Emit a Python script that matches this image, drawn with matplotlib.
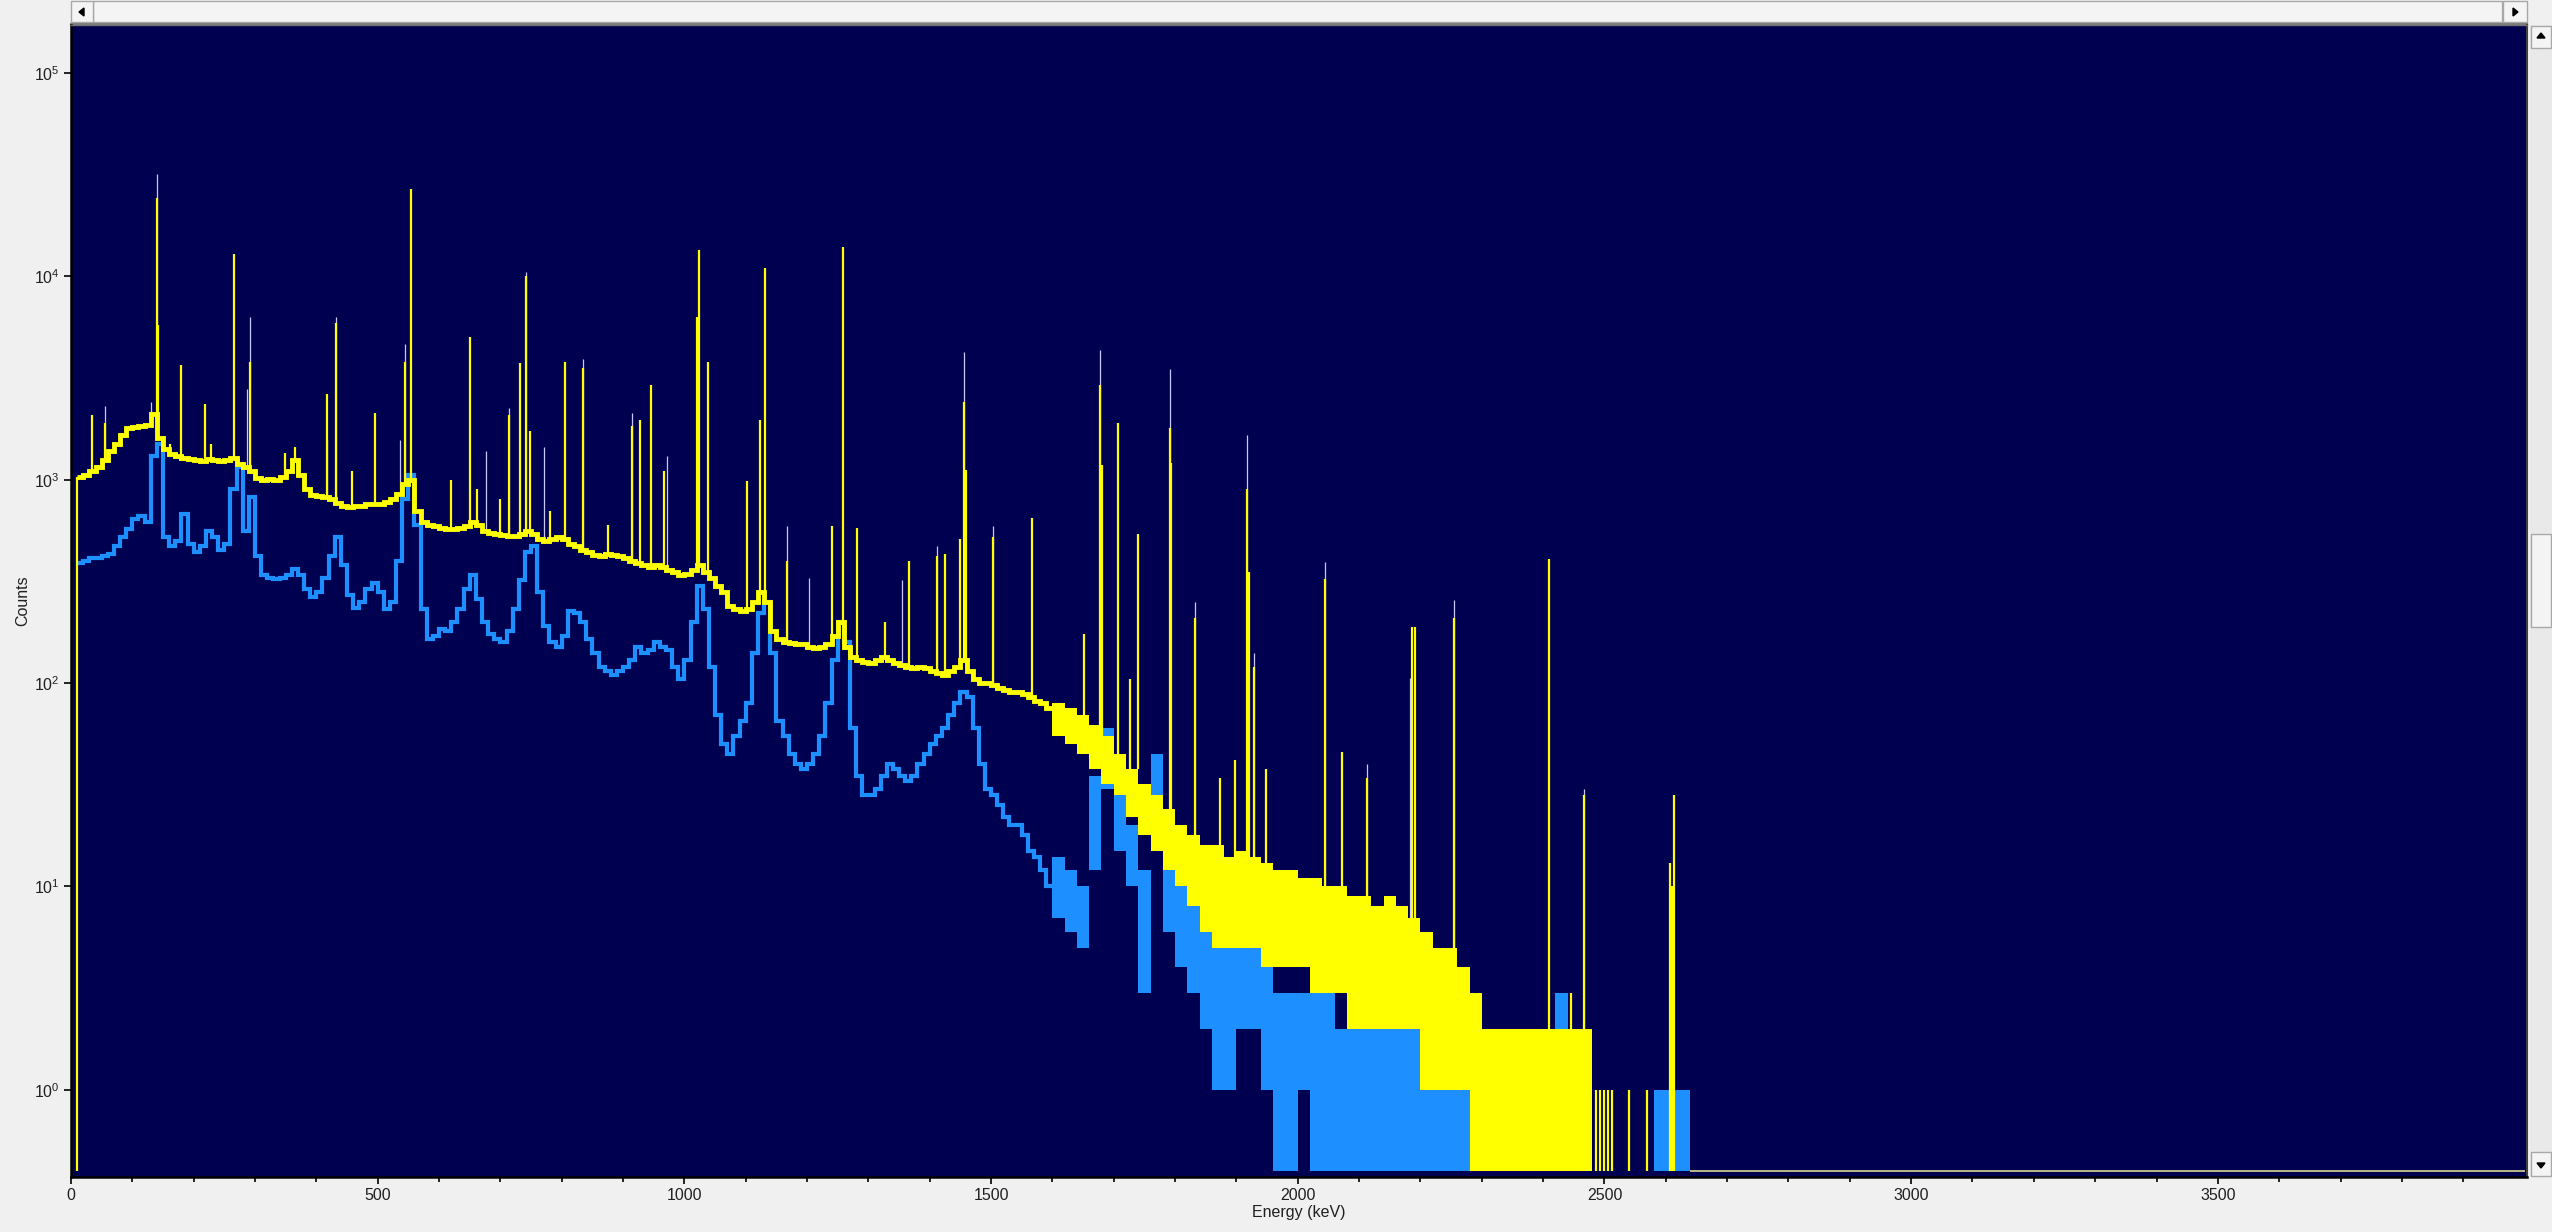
import numpy as np
import matplotlib
matplotlib.use("Agg")
import matplotlib.pyplot as plt
from matplotlib.patches import Rectangle, Polygon
from matplotlib.ticker import FixedLocator, NullLocator

plt.rcParams['font.family'] = ['Liberation Sans', 'DejaVu Sans']
plt.rcParams['mathtext.default'] = 'regular'

# ---- values ----
# 10 keV channels, 0..1600 keV: centre of the noisy trace (counts)
bin_edges = np.arange(0, 1610, 10)
yellow_mid = [
    0, 1030, 1060, 1100, 1150, 1250, 1380, 1500, 1650, 1800,
    1820, 1840, 1860, 2100, 1600, 1420, 1330, 1300, 1280, 1260,
    1250, 1240, 1260, 1250, 1240, 1250, 1280, 1200, 1150, 1100,
    1020, 1000, 1010, 1000, 1030, 1100, 1250, 1050, 900, 840,
    830, 820, 800, 770, 740, 730, 740, 740, 760, 760,
    760, 780, 800, 850, 950, 1000, 700, 620, 600, 590,
    580, 575, 570, 580, 590, 620, 600, 560, 545, 540,
    535, 530, 530, 540, 560, 540, 510, 500, 510, 520,
    510, 480, 470, 450, 440, 425, 420, 430, 425, 420,
    410, 400, 390, 380, 370, 380, 370, 360, 350, 340,
    345, 360, 380, 350, 330, 300, 280, 240, 230, 225,
    230, 250, 280, 250, 180, 165, 160, 158, 155, 155,
    150, 148, 150, 155, 170, 200, 150, 135, 130, 127,
    125, 130, 135, 130, 125, 122, 120, 118, 120, 118,
    115, 112, 110, 115, 120, 130, 115, 105, 100, 100,
    98, 95, 92, 90, 90, 88, 85, 82, 80, 75,
]
blue_mid = [
    0, 390, 400, 410, 410, 420, 430, 470, 520, 570,
    640, 660, 620, 1300, 1500, 520, 470, 500, 680, 480,
    440, 470, 560, 520, 450, 480, 900, 1150, 560, 820,
    420, 340, 330, 325, 330, 340, 365, 340, 290, 265,
    280, 330, 420, 520, 380, 270, 235, 250, 290, 310,
    280, 230, 250, 400, 800, 1050, 600, 230, 165, 170,
    185, 180, 200, 230, 290, 340, 260, 200, 175, 165,
    160, 180, 230, 320, 440, 470, 280, 190, 160, 150,
    170, 225, 220, 200, 165, 140, 120, 115, 110, 115,
    120, 130, 150, 140, 145, 160, 150, 145, 120, 105,
    130, 200, 300, 230, 120, 70, 50, 45, 55, 65,
    80, 140, 220, 250, 140, 65, 55, 45, 40, 38,
    40, 45, 55, 80, 130, 200, 160, 60, 35, 28,
    28, 30, 35, 40, 38, 35, 33, 35, 40, 45,
    50, 55, 60, 70, 80, 90, 85, 60, 40, 30,
    28, 25, 22, 20, 20, 18, 15, 14, 12, 10,
]

# 20 keV channels, 1600..2640 keV: spread of the noisy band (low / high counts)
band_edges = np.arange(1600, 2660, 20)
yellow_lo = [55, 50, 45, 38, 32, 28, 22, 18, 15, 12, 10, 8, 6, 5, 5, 5, 5, 4, 4, 4,
             4, 3, 3, 3, 2, 2, 2, 2, 2, 2, 1, 1, 1, 1, 0, 0, 0, 0, 0, 0,
             0, 0, 0, 0, 0, 0, 0, 0, 0, 0, 0, 0]
yellow_hi = [80, 75, 70, 62, 55, 45, 38, 32, 28, 24, 20, 18, 16, 16, 14, 15, 14, 13, 12, 12,
             11, 11, 10, 10, 9, 9, 8, 9, 8, 7, 6, 5, 5, 4, 3, 2, 2, 2, 2, 2,
             2, 2, 2, 2, 0, 0, 0, 0, 0, 0, 0, 0]
blue_lo = [7, 6, 5, 12, 30, 15, 10, 3, 15, 6, 4, 3, 2, 1, 1, 2, 2, 1, 0, 0,
           1, 0, 0, 0, 0, 0, 0, 0, 0, 0, 0, 0, 0, 0, 0, 0, 0, 0, 0, 0,
           0, 0, 0, 0, 0, 0, 0, 0, 0, 0, 0, 0]
blue_hi = [14, 12, 10, 35, 60, 30, 20, 12, 45, 15, 10, 9, 7, 5, 5, 7, 6, 4, 3, 3,
           3, 3, 3, 2, 2, 2, 2, 2, 2, 2, 2, 2, 1, 1, 1, 1, 1, 1, 1, 1,
           2, 3, 1, 1, 0, 0, 0, 0, 0, 1, 1, 1]

# narrow lines of the yellow spectrum (keV, counts at top)
peak_e = [35, 55, 140, 142, 162, 180, 219, 229, 266, 292, 349, 365, 417, 432, 458,
          496, 545, 555, 619, 650, 662, 700, 714, 732, 741, 749, 781, 805, 835, 876,
          914, 927, 946, 966, 1021, 1024, 1039, 1102, 1123, 1131, 1168, 1240, 1259,
          1281, 1327, 1367, 1412, 1425, 1450, 1456, 1459, 1503, 1566, 1652, 1678,
          1681, 1707, 1726, 1739, 1791, 1793, 1832, 1873, 1898, 1918, 1920, 1928,
          1949, 2045, 2072, 2113, 2186, 2191, 2254, 2410, 2445, 2466, 2486, 2493,
          2499, 2506, 2513, 2540, 2570, 2607, 2610, 2614]
peak_h = [2070, 1900, 24200, 5750, 1500, 3650, 2350, 1500, 12800, 3800, 1350, 1450,
          2650, 5870, 1100, 2130, 3800, 26900, 1000, 5050, 900, 800, 2070, 3730,
          10000, 1740, 700, 3800, 3540, 600, 1830, 1960, 2920, 1100, 6300, 13400,
          3800, 980, 1960, 11000, 400, 590, 14000, 580, 200, 400, 420, 430, 510,
          2400, 1110, 520, 650, 175, 2920, 1180, 1910, 105, 542, 1790, 1210, 210,
          34, 42, 903, 353, 120, 38, 325, 46, 34, 189, 189, 210, 405, 3, 28, 1, 1,
          1, 1, 1, 1, 1, 13, 10, 28]

# pale tips that rise above some of the lines (keV, counts)
tip_e = [55, 131, 140, 287, 292, 417, 432, 537, 545, 677, 714, 741, 771, 835, 914,
         972, 1168, 1203, 1354, 1412, 1456, 1503, 1678, 1791, 1832, 1918, 1928,
         2045, 2113, 2183, 2254, 2466]
tip_h = [2300, 2400, 31800, 2800, 6280, 1560, 6280, 1560, 4620, 1380, 2250, 10500,
         1450, 3920, 2130, 1300, 590, 330, 320, 470, 4260, 590, 4340, 3520, 250,
         1660, 141, 395, 40, 106, 257, 30]

E_MAX = 4000
FLOOR = 0.40          # where empty channels are drawn
YLIM = (0.3726, 1.72e5)

NAVY = '#000050'
YELLOW = '#FFFF00'
BLUE = '#1E8FFF'
TIP = '#C8C8FF'
BG = '#F0F0F0'


def clip(v):
    return np.clip(np.asarray(v, dtype=float), FLOOR, None)


top_edges = np.concatenate([bin_edges[:-1], band_edges])
top_vals = np.concatenate([clip(yellow_mid), clip(yellow_hi)])


def base_of(e):
    i = np.searchsorted(top_edges, e, side='right') - 1
    if i >= len(top_vals):
        return FLOOR
    return top_vals[i]


fig = plt.figure(figsize=(25.52, 12.32), dpi=100, facecolor=BG)

# window chrome (scroll bars), drawn in pixel coordinates
ui = fig.add_axes([0, 0, 1, 1], zorder=0)
ui.set_xlim(0, 2552)
ui.set_ylim(1232, 0)
ui.axis('off')
ui.add_patch(Rectangle((2530, 25), 22, 1152, facecolor='#E9E9E9', edgecolor='none'))
for x0, y0, w, h in [(93, 1, 2409, 21), (71, 1, 22, 21), (2503, 1, 24, 21),
                     (2531, 26, 20, 22), (2531, 1152, 20, 24), (2531, 534, 20, 93)]:
    ui.add_patch(Rectangle((x0, y0), w, h, facecolor='#F4F4F4', edgecolor='#A8A8A8', lw=1))
ui.plot([71, 2527], [23.5, 23.5], color='#808080', lw=1.5)
ui.add_patch(Polygon([[79, 12], [84, 8], [84, 16]], closed=True, color='black'))
ui.add_patch(Polygon([[2518, 12], [2513, 8], [2513, 16]], closed=True, color='black'))
ui.add_patch(Polygon([[2541, 33], [2537, 38], [2545, 38]], closed=True, color='black'))
ui.add_patch(Polygon([[2541, 1168], [2537, 1163], [2545, 1163]], closed=True, color='black'))

ax = fig.add_axes([71 / 2552, 1 - 1177 / 1232, 2456 / 2552, 1152 / 1232], zorder=1)
ax.set_facecolor(NAVY)
ax.set_yscale('log')

# blue spectrum
ax.stairs(clip(blue_mid[1:]), bin_edges[1:], color=BLUE, lw=3, baseline=None, zorder=2)
ax.stairs(clip(blue_hi), band_edges, baseline=clip(blue_lo), fill=True, color=BLUE, lw=0, zorder=2)

# pale tips
tip_base = [base_of(e) for e in tip_e]
ax.vlines(tip_e, tip_base, tip_h, color=TIP, lw=0.9, zorder=3)

# yellow spectrum
ax.stairs(clip(yellow_mid[1:]), bin_edges[1:], color=YELLOW, lw=3.5, baseline=None, zorder=4)
ax.stairs(clip(yellow_hi), band_edges, baseline=clip(yellow_lo), fill=True, color=YELLOW, lw=0, zorder=4)
ax.vlines(bin_edges[1], FLOOR, yellow_mid[1], color=YELLOW, lw=1.6, zorder=4)
peak_base = [base_of(e) for e in peak_e]
ax.vlines(peak_e, peak_base, peak_h, color=YELLOW, lw=1.6, zorder=5)
ax.hlines(FLOOR, band_edges[-1], E_MAX, color='#D8D890', lw=1.2, zorder=5)

ax.set_xlim(0, 4004)
ax.set_ylim(*YLIM)
ax.xaxis.set_major_locator(FixedLocator(range(0, E_MAX, 500)))
ax.xaxis.set_minor_locator(FixedLocator(range(0, E_MAX, 100)))
ax.yaxis.set_minor_locator(NullLocator())
ax.tick_params(axis='both', which='major', direction='out', length=5, width=1.2,
               colors='black', labelcolor='#202020', labelsize=11.5, pad=3)
ax.tick_params(axis='x', which='minor', direction='out', length=3.5, width=1.2, colors='black')

for side in ('left', 'bottom'):
    ax.spines[side].set_color('black')
    ax.spines[side].set_linewidth(1.8)
ax.spines['right'].set_color('#404040')
ax.spines['right'].set_linewidth(1.5)
ax.spines['top'].set_color('#707070')
ax.spines['top'].set_linewidth(1.0)

ax.set_xlabel('Energy (keV)', fontsize=11.5, color='#202020', labelpad=1)
ax.set_ylabel('Counts', fontsize=11.5, color='#202020', labelpad=3)

fig.savefig('out.png', dpi=100, facecolor=BG)
